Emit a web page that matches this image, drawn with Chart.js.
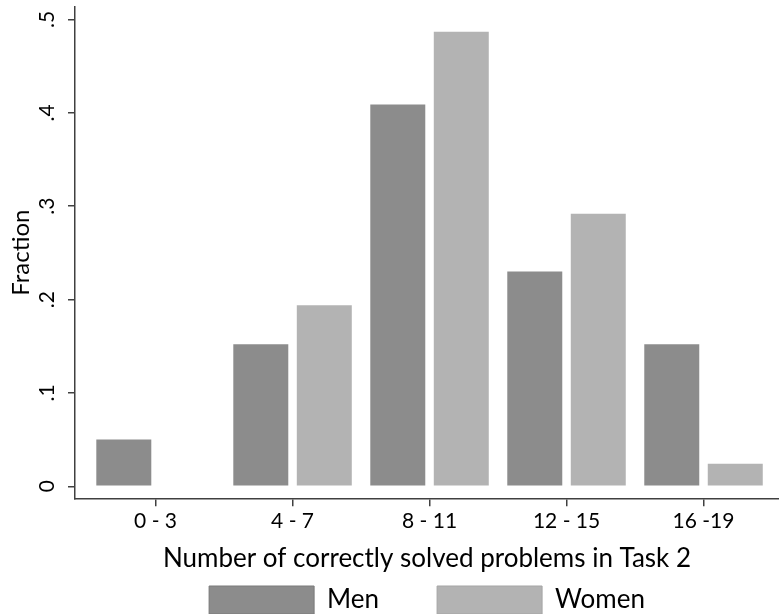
<!DOCTYPE html>
<html lang="en">

<head>
    <meta charset="UTF-8">
    <title>Fraction by number of correctly solved problems</title>
    <script src="https://cdn.jsdelivr.net/npm/chart.js"></script>
    <style>
        body {
            margin: 0;
            background-color: white;
        }

        .chart-container {
            position: relative;
            width: 779px;
            height: 614px;
        }
    </style>
</head>

<body>
    <div class="chart-container">
        <canvas id="fractionChart"></canvas>
    </div>

    <script>
        // Data
        const categories = ['0 - 3', '4 - 7', '8 - 11', '12 - 15', '16 -19'];
        const menValues = [0.050, 0.152, 0.409, 0.230, 0.152];
        const womenValues = [0, 0.194, 0.487, 0.292, 0.024];
        const yTicks = [0, 0.1, 0.2, 0.3, 0.4, 0.5];
        const yTickLabels = ['0', '.1', '.2', '.3', '.4', '.5'];

        Chart.defaults.font.family = 'Lato, sans-serif';
        Chart.defaults.color = '#000';

        const axisColor = '#404040';

        // keep the axes from asking the layout for extra room around the plot
        function noPadding(scale) {
            scale.paddingTop = 0;
            scale.paddingBottom = 0;
            scale.paddingLeft = 0;
            scale.paddingRight = 0;
        }

        const ctx = document.getElementById('fractionChart').getContext('2d');
        const chart = new Chart(ctx, {
            type: 'bar',
            data: {
                datasets: [
                    {
                        label: 'Men',
                        data: menValues.map((v, i) => ({ x: i, y: v })),
                        backgroundColor: '#8c8c8c',
                        borderWidth: 0
                    },
                    {
                        label: 'Women',
                        data: womenValues.map((v, i) => ({ x: i, y: v })),
                        backgroundColor: '#b3b3b3',
                        borderWidth: 0
                    }
                ]
            },
            options: {
                responsive: true,
                maintainAspectRatio: false,
                animation: false,
                categoryPercentage: 0.927,
                barPercentage: 0.866,
                layout: {
                    padding: { top: 7, right: 0, left: 0, bottom: -10 }
                },
                plugins: {
                    tooltip: { enabled: false },
                    legend: {
                        position: 'bottom',
                        fullSize: false,
                        labels: {
                            boxWidth: 105,
                            boxHeight: 28,
                            padding: 58,
                            font: { size: 26 },
                            generateLabels(chart) {
                                const items = Chart.defaults.plugins.legend.labels.generateLabels(chart);
                                items.forEach(item => {
                                    item.lineWidth = 1;
                                    item.strokeStyle = item.datasetIndex === 0 ? '#7a7a7a' : '#a5a5a5';
                                });
                                return items;
                            }
                        }
                    }
                },
                scales: {
                    x: {
                        type: 'linear',
                        offset: false,
                        min: -0.588,
                        max: 4.551,
                        afterBuildTicks(scale) {
                            scale.ticks = categories.map((c, i) => ({ value: i }));
                        },
                        afterFit(scale) {
                            scale.height = 29.7;
                            noPadding(scale);
                        },
                        ticks: {
                            font: { size: 21 },
                            padding: 2,
                            maxRotation: 0,
                            autoSkip: false,
                            callback: (value) => categories[value]
                        },
                        grid: {
                            offset: false,
                            drawOnChartArea: false,
                            tickLength: 8,
                            color: axisColor,
                            lineWidth: 1.5
                        },
                        border: { color: axisColor, width: 1.5 },
                        title: {
                            display: true,
                            text: 'Number of correctly solved problems in Task 2',
                            font: { size: 26 },
                            padding: { top: 0, bottom: -46 }
                        }
                    },
                    y: {
                        min: -0.0129,
                        max: 0.5134,
                        afterBuildTicks(scale) {
                            scale.ticks = yTicks.map(v => ({ value: v }));
                        },
                        afterFit(scale) {
                            scale.width = 75;
                            noPadding(scale);
                        },
                        ticks: {
                            font: { size: 21 },
                            padding: 12,
                            minRotation: 90,
                            maxRotation: 90,
                            crossAlign: 'center',
                            callback: (value) => yTickLabels[yTicks.indexOf(value)]
                        },
                        grid: {
                            drawOnChartArea: false,
                            tickLength: 7,
                            color: axisColor,
                            lineWidth: 1.5
                        },
                        border: { color: axisColor, width: 1.5 },
                        title: {
                            display: true,
                            text: 'Fraction',
                            font: { size: 24 },
                            padding: { top: 7, bottom: 0 }
                        }
                    }
                }
            }
        });
    </script>
</body>

</html>
